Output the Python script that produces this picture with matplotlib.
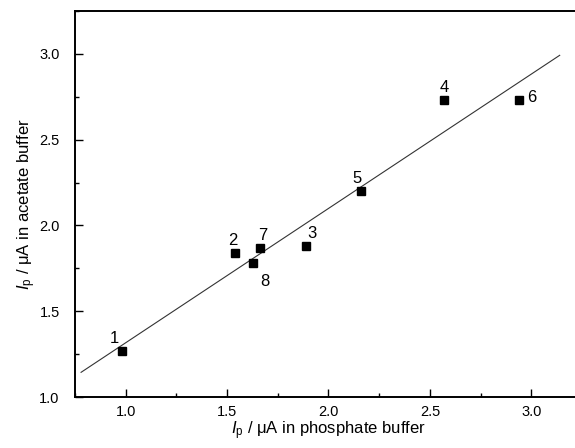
import matplotlib
matplotlib.use("Agg")
import matplotlib.pyplot as plt
from matplotlib.ticker import MultipleLocator
import numpy as np

plt.rcParams['font.family'] = ['Liberation Sans', 'DejaVu Sans']
plt.rcParams['mathtext.fontset'] = 'custom'
plt.rcParams['mathtext.rm'] = 'Liberation Sans'
plt.rcParams['mathtext.it'] = 'Liberation Sans:italic'

# peak currents, phosphate vs acetate buffer
labels = ['1', '2', '3', '4', '5', '6', '7', '8']
ip_phosphate = [0.98, 1.54, 1.89, 2.57, 2.16, 2.94, 1.66, 1.63]
ip_acetate = [1.27, 1.84, 1.88, 2.73, 2.20, 2.73, 1.87, 1.78]
# label offsets in points (dx, dy)
offsets = [(-5, 9), (-2, 9), (4, 9), (0, 9), (-3, 9), (9, 2), (2, 9), (8, -13)]

fig = plt.figure(figsize=(5.75, 4.48), dpi=100)
ax = fig.add_axes([75 / 575, 51 / 448, 507 / 575, 386 / 448])

slope, icpt = np.polyfit(ip_phosphate, ip_acetate, 1)
xf = np.array([0.78, 3.14])
ax.plot(xf, slope * xf + icpt, color='#333333', lw=0.8)

ax.plot(ip_phosphate, ip_acetate, 's', color='black', ms=5.5)
for lab, x, y, (dx, dy) in zip(labels, ip_phosphate, ip_acetate, offsets):
    ax.annotate(lab, (x, y), xytext=(dx, dy), textcoords='offset points',
                ha='center', va='center', fontsize=12)

ax.set_xlim(0.75, 3.25)
ax.set_ylim(1.0, 3.25)
ax.xaxis.set_major_locator(MultipleLocator(0.5))
ax.xaxis.set_minor_locator(MultipleLocator(0.25))
ax.yaxis.set_major_locator(MultipleLocator(0.5))
ax.yaxis.set_minor_locator(MultipleLocator(0.25))
ax.tick_params(which='both', direction='in', top=False, right=False, labelsize=10.5)
ax.tick_params(which='major', length=6, width=1)
ax.tick_params(which='minor', length=3, width=1)
ax.tick_params(axis='x', pad=6)
ax.tick_params(axis='y', pad=11)
for s in ax.spines.values():
    s.set_linewidth(1.4)

ax.set_xlabel(r'$I_\mathrm{p}$ / μA in phosphate buffer', fontsize=12, labelpad=0)
ax.set_ylabel(r'$I_\mathrm{p}$ / μA in acetate buffer', fontsize=12, labelpad=1)

fig.savefig('out.png', dpi=100)
